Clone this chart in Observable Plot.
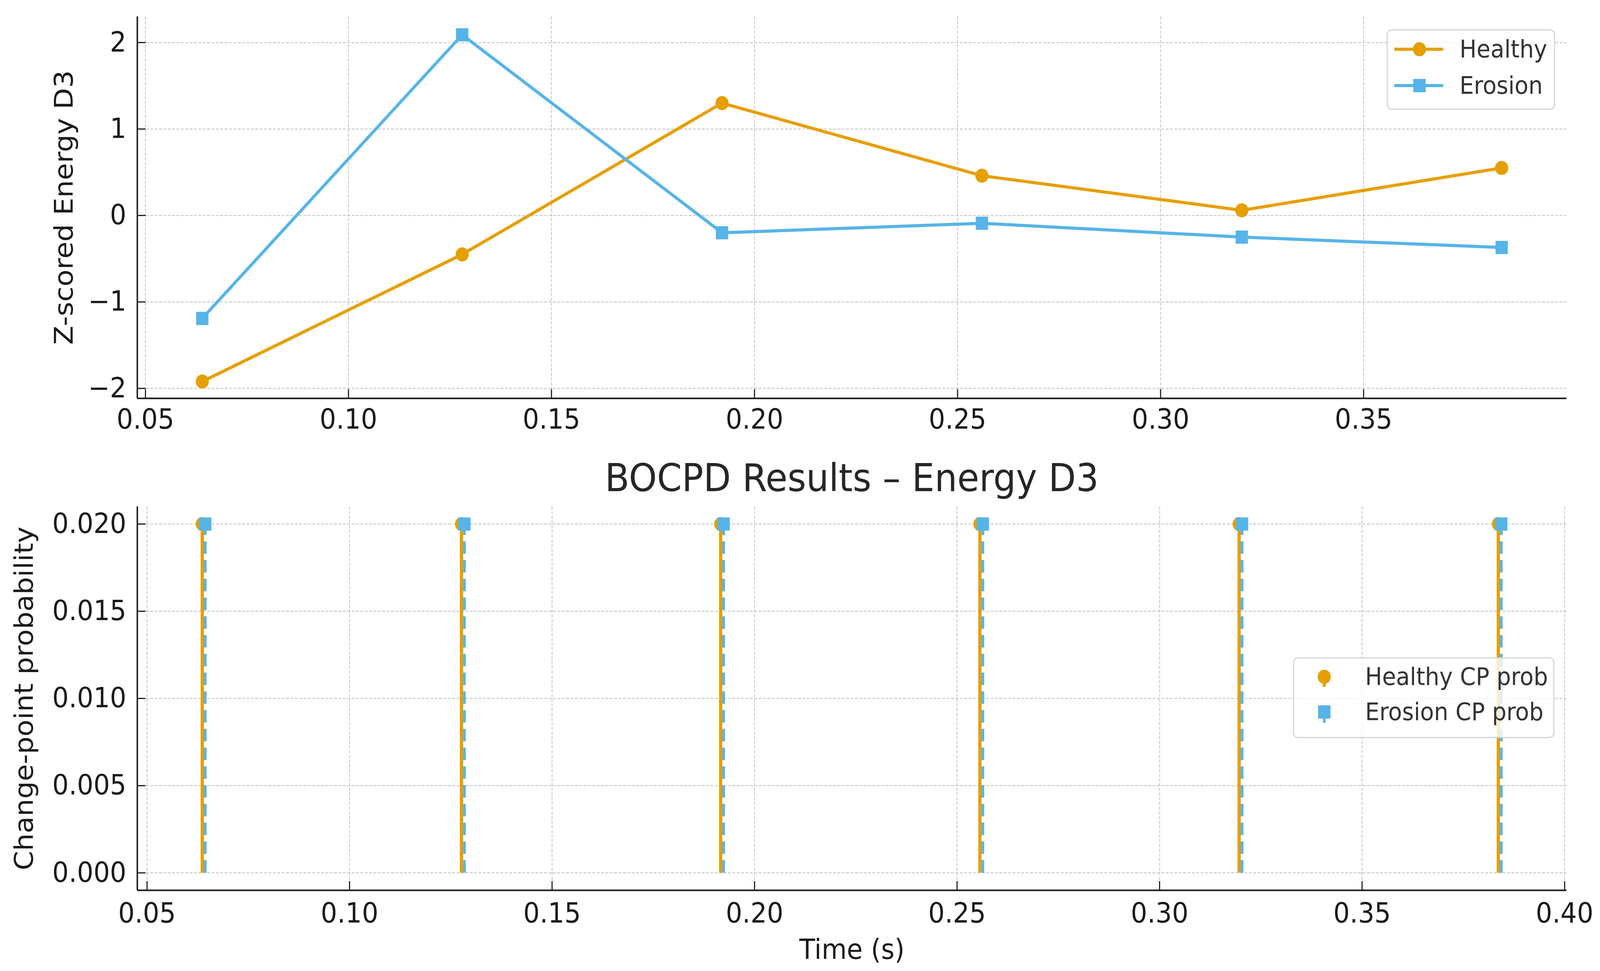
<!DOCTYPE html>
<html><head><meta charset="utf-8">
<script src="https://cdn.jsdelivr.net/npm/d3@7"></script>
<script src="https://cdn.jsdelivr.net/npm/@observablehq/plot@0.6"></script>
<style>
html,body{margin:0;padding:0;background:#fff;overflow:hidden;}
#wrap{position:absolute;left:0;top:0;width:4387px;height:2485px;font-family:"DejaVu Sans",sans-serif;overflow:hidden;background:#fff;transform-origin:0 0;}
#wrap > svg{display:block;max-width:none;}
.title{height:130px;line-height:146px;padding-left:376px;width:3919px;text-align:center;font-size:98px;color:#262626;white-space:nowrap;overflow:visible;}
.legend{position:absolute;background:rgba(255,255,255,0.8);border:3px solid rgba(204,204,204,0.85);border-radius:14px;box-sizing:border-box;}
.legend .lab{position:absolute;font-size:62px;color:#333;white-space:nowrap;line-height:1;transform:translateY(-50%);}
.legend svg{position:absolute;overflow:visible;}
</style></head>
<body><div id="wrap"></div>
<script>
// ---- data ----
const time = [0.064, 0.128, 0.192, 0.256, 0.320, 0.384];
const healthyZ = [-1.92, -0.45, 1.30, 0.46, 0.06, 0.55];
const erosionZ = [-1.19, 2.09, -0.20, -0.09, -0.25, -0.37];
const healthyCP = [0.02, 0.02, 0.02, 0.02, 0.02, 0.02];
const erosionCP = [0.02, 0.02, 0.02, 0.02, 0.02, 0.02];
const seriesNames = ["Healthy", "Erosion"];
const cpNames = ["Healthy CP prob", "Erosion CP prob"];
const topXTicks = [0.05, 0.10, 0.15, 0.20, 0.25, 0.30, 0.35];
const bottomXTicks = [0.05, 0.10, 0.15, 0.20, 0.25, 0.30, 0.35, 0.40];
const topYTicks = [-2, -1, 0, 1, 2];
const bottomYTicks = [0, 0.005, 0.010, 0.015, 0.020];
const titleText = "BOCPD Results – Energy D3";
const xLabel = "Time (s)";
const yLabelTop = "Z-scored Energy D3";
const yLabelBottom = "Change-point probability";

// ---- style ----
const ORANGE = "#E69F00", BLUE = "#56B4E9";
const W = 4387, H = 2485;
const ML = 376, MR = 92;
const innerW = W - ML - MR;
const TICK = 23;
const gridStyle = {stroke: "#c4c4c4", strokeOpacity: 0.9, strokeWidth: 2.5, strokeDasharray: "8,4"};
const spine = {stroke: "#1a1a1a", strokeWidth: 4};
const tickMark = {stroke: "#1a1a1a", strokeWidth: 3};
const baseStyle = {fontFamily: "DejaVu Sans", fontSize: "71px", color: "#1a1a1a", background: "transparent", overflow: "visible"};
const minus = d => String(d).replace("-", "\u2212");

const topData = time.map((t, i) => ({t, healthy: healthyZ[i], erosion: erosionZ[i]}));
const cpData = time.map((t, i) => ({t, healthy: healthyCP[i], erosion: erosionCP[i]}));

const wrap = document.getElementById("wrap");

// fit the fixed 4387x2485 layout into whatever viewport the browser gives
function fit() {
  const sx = (window.innerWidth || W) / W, sy = (window.innerHeight || H) / H;
  wrap.style.transform = `scale(${sx}, ${sy})`;
}
fit();
window.addEventListener("resize", fit);

// ---- top panel ----
const topH = 1150, topMT = 42, topMB = 131;
const topInnerH = topH - topMT - topMB;
const topXDom = [0.048, 0.400], topYDom = [-2.115, 2.30];
const topPlot = Plot.plot({
  width: W, height: topH, marginTop: topMT, marginBottom: topMB, marginLeft: ML, marginRight: MR,
  style: baseStyle,
  x: {domain: topXDom},
  y: {domain: topYDom},
  marks: [
    Plot.gridX(topXTicks, gridStyle),
    Plot.gridY(topYTicks, gridStyle),
    Plot.ruleX(topXTicks, {x: d => d, insetTop: topInnerH - TICK, ...tickMark}),
    Plot.ruleY(topYTicks, {y: d => d, insetRight: innerW - TICK, ...tickMark}),
    Plot.axisX(topXTicks, {tickSize: 0, tickPadding: 27, tickFormat: d3.format(".2f"), label: null, fontSize: 71}),
    Plot.axisY(topYTicks, {tickSize: 0, tickPadding: 30, tickFormat: minus, label: yLabelTop, labelAnchor: "center", labelArrow: "none", labelOffset: 228, fontSize: 71}),
    Plot.ruleX([topXDom[0]], spine),
    Plot.ruleY([topYDom[0]], spine),
    Plot.line(topData, {x: "t", y: "healthy", stroke: ORANGE, strokeWidth: 8}),
    Plot.dot(topData, {x: "t", y: "healthy", fill: ORANGE, r: 18, symbol: "circle"}),
    Plot.line(topData, {x: "t", y: "erosion", stroke: BLUE, strokeWidth: 8}),
    Plot.dot(topData, {x: "t", y: "erosion", fill: BLUE, r: 19, symbol: "square"})
  ]
});
wrap.appendChild(topPlot);

// ---- title ----
const t = document.createElement("div");
t.className = "title";
t.textContent = titleText;
wrap.appendChild(t);

// ---- bottom panel ----
const botH = 1205, botMT = 16, botMB = 207;
const botInnerH = botH - botMT - botMB;
const botXDom = [0.0476, 0.4005], botYDom = [-0.001, 0.021];
const off = 4;
const botPlot = Plot.plot({
  width: W, height: botH, marginTop: botMT, marginBottom: botMB, marginLeft: ML, marginRight: MR,
  style: baseStyle,
  x: {domain: botXDom},
  y: {domain: botYDom},
  marks: [
    Plot.gridX(bottomXTicks, gridStyle),
    Plot.gridY(bottomYTicks, gridStyle),
    Plot.ruleX(bottomXTicks, {x: d => d, insetTop: botInnerH - TICK, ...tickMark}),
    Plot.ruleY(bottomYTicks, {y: d => d, insetRight: innerW - TICK, ...tickMark}),
    Plot.axisX(bottomXTicks, {tickSize: 0, tickPadding: 32, tickFormat: d3.format(".2f"), label: xLabel, labelAnchor: "center", labelArrow: "none", labelOffset: 175, fontSize: 71}),
    Plot.axisY(bottomYTicks, {tickSize: 0, tickPadding: 30, tickFormat: d3.format(".3f"), label: yLabelBottom, labelAnchor: "center", labelArrow: "none", labelOffset: 337, fontSize: 71}),
    Plot.ruleX([botXDom[0]], spine),
    Plot.ruleY([botYDom[0]], spine),
    Plot.ruleX(cpData, {x: "t", y1: 0, y2: "healthy", stroke: ORANGE, strokeWidth: 9, dx: -off}),
    Plot.dot(cpData, {x: "t", y: "healthy", fill: ORANGE, r: 18, symbol: "circle", dx: -off}),
    Plot.ruleX(cpData, {x: "t", y1: 0, y2: "erosion", stroke: BLUE, strokeWidth: 7.5, strokeDasharray: "32,16", dx: off}),
    Plot.dot(cpData, {x: "t", y: "erosion", fill: BLUE, r: 19, symbol: "square", dx: off})
  ]
});
wrap.appendChild(botPlot);

// ---- legends ----
function legend(box, rows) {
  const div = d3.select(wrap).append("div").attr("class", "legend")
    .style("left", box.left + "px").style("top", box.top + "px")
    .style("width", box.width + "px").style("height", box.height + "px");
  rows.forEach(r => {
    const svg = div.append("svg").attr("width", 10).attr("height", 10)
      .style("left", "0px").style("top", (r.y - 3) + "px");
    r.draw(d3.select(svg.node()));
    div.append("div").attr("class", "lab").style("left", (box.textX - 3) + "px").style("top", (r.y - 3) + "px").text(r.label);
  });
}
legend({left: 3802, top: 75, width: 462, height: 206, textX: 200}, [
  {y: 51, label: seriesNames[0], draw: g => {
    g.append("line").attr("x1", 18).attr("x2", 152).attr("y1", 0).attr("y2", 0).attr("stroke", ORANGE).attr("stroke-width", 8);
    g.append("circle").attr("cx", 87).attr("cy", 0).attr("r", 18).attr("fill", ORANGE);
  }},
  {y: 144, label: seriesNames[1], draw: g => {
    g.append("line").attr("x1", 18).attr("x2", 152).attr("y1", 0).attr("y2", 0).attr("stroke", BLUE).attr("stroke-width", 8);
    g.append("rect").attr("x", 87 - 17).attr("y", -17).attr("width", 34).attr("height", 34).attr("fill", BLUE);
  }}
]);
legend({left: 3545, top: 1682, width: 717, height: 207, textX: 198}, [
  {y: 50, label: cpNames[0], draw: g => {
    g.append("line").attr("x1", 83).attr("x2", 83).attr("y1", 0).attr("y2", 26).attr("stroke", ORANGE).attr("stroke-width", 8);
    g.append("circle").attr("cx", 83).attr("cy", 0).attr("r", 18).attr("fill", ORANGE);
  }},
  {y: 140, label: cpNames[1], draw: g => {
    g.append("line").attr("x1", 83).attr("x2", 83).attr("y1", 0).attr("y2", 28).attr("stroke", BLUE).attr("stroke-width", 7);
    g.append("rect").attr("x", 83 - 17).attr("y", -17).attr("width", 34).attr("height", 34).attr("fill", BLUE);
  }}
]);
</script>
</body></html>
